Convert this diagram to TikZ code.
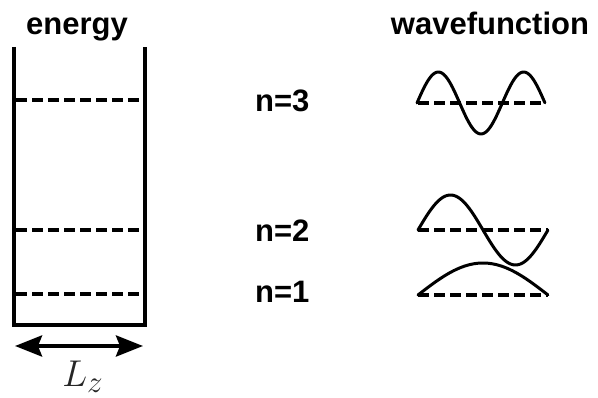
\documentclass[tikz,border=0pt]{standalone}
\usepackage{fontspec}
\setmainfont{Liberation Sans}
\usetikzlibrary{arrows.meta}
\tikzset{
  wall/.style={line width=4.5pt, line join=miter},
  level/.style={line width=3.5pt, dash pattern=on 11pt off 5pt},
  wave/.style={line width=3pt, line cap=round, line join=round},
  heading/.style={font=\fontsize{31}{31}\selectfont\bfseries, inner sep=0pt, anchor=base},
  qlabel/.style={font=\fontsize{31}{31}\selectfont\bfseries, inner sep=0pt, anchor=base west},
  bigtip/.tip={Stealth[length=27pt,width=21pt,inset=4pt]},
}
\begin{document}
\begin{tikzpicture}[x=1pt,y=-1pt]
\useasboundingbox (0,0) rectangle (598,398);
% headings
\node[heading] (energy) at (77,35) {energy};
\node[heading] (wf) at (490,35) {wavefunction};
% well
\coordinate (tl) at (14,47);
\coordinate (bl) at (14,325);
\coordinate (br) at (145,325);
\coordinate (tr) at (145,47);
\draw[wall] (tl) -- (bl) -- (br) -- (tr);
% energy levels
\draw[level] (16,100) -- (143,100);
\draw[level] (16,230) -- (143,230);
\draw[level] (16,294) -- (143,294);
% width arrow
\coordinate (al) at (15,346);
\coordinate (ar) at (143,346);
\draw[line width=4pt, {bigtip}-{bigtip}] (al) -- (ar);
\node[inner sep=0pt, anchor=base west, font=\Huge, scale=1.5, text=black!85] (Lz) at (62,387) {$L_z$};
% quantum numbers
\node[qlabel] (n3) at (255,112) {n=3};
\node[qlabel] (n2) at (255,242) {n=2};
\node[qlabel] (n1) at (255,303) {n=1};
% wavefunctions
\draw[level] (418,103) -- (546,103);
\draw[wave] plot[domain=0:1, samples=80] ({417+128*\x},{103-31*sin(3*180*\x)});
\draw[level] (418,230) -- (548,230);
\draw[wave] plot[domain=0:1, samples=80] ({418+130*\x},{230-35*sin(2*180*\x)});
\draw[level] (418,295) -- (548,295);
\draw[wave] plot[domain=0:1, samples=60] ({418+130*\x},{295-32*sin(180*\x)});
\end{tikzpicture}
\end{document}
